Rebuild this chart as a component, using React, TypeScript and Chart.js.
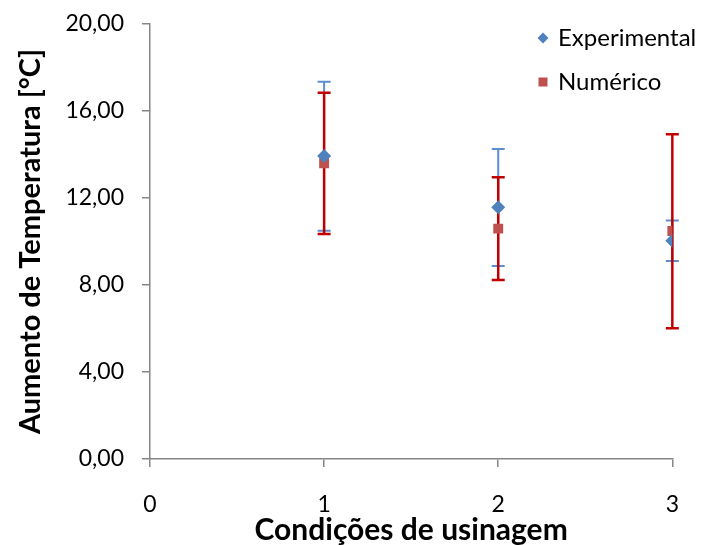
import React, { useEffect, useRef } from "react";
import { Chart, registerables } from "chart.js";

Chart.register(...registerables);

const conditions = [1, 2, 3];
const expValues = [13.93, 11.57, 10.04];
const expUpper = [17.35, 14.25, 10.97];
const expLower = [10.5, 8.87, 9.1];
const numValues = [13.6, 10.59, 10.48];
const numUpper = [16.84, 12.95, 14.93];
const numLower = [10.34, 8.23, 6.01];
const xTickValues = [0, 1, 2, 3];
const yTickStep = 4;

const seriesNames = ["Experimental", "Numérico"];
const xTitle = "Condições de usinagem";
const yTitle = "Aumento de Temperatura [°C]";

const FONT = "Lato, 'Open Sans', sans-serif";
const AXIS_COLOR = "#868686";
const BLUE = "#4F81BD";
const RED = "#C0504D";
const BLUE_BAR = "#5B8ED0";
const RED_BAR = "#C00000";

const errorBars = [
  { upper: expUpper, lower: expLower, color: BLUE_BAR, width: 2 },
  { upper: numUpper, lower: numLower, color: RED_BAR, width: 2.5 },
];

const errorBarPlugin = {
  id: "errorBarsCustom",
  beforeDatasetsDraw(chart: any) {
    const { ctx, scales } = chart;
    const xs = scales.x;
    const ys = scales.y;
    ctx.save();
    errorBars.forEach((eb) => {
      ctx.strokeStyle = eb.color;
      ctx.lineWidth = eb.width;
      conditions.forEach((c, i) => {
        const x = xs.getPixelForValue(c);
        const yu = ys.getPixelForValue(eb.upper[i]);
        const yl = ys.getPixelForValue(eb.lower[i]);
        ctx.beginPath();
        ctx.moveTo(x, yu);
        ctx.lineTo(x, yl);
        ctx.moveTo(x - 6.5, yu);
        ctx.lineTo(x + 6.5, yu);
        ctx.moveTo(x - 6.5, yl);
        ctx.lineTo(x + 6.5, yl);
        ctx.stroke();
      });
    });
    ctx.restore();
  },
};

const legendPlugin = {
  id: "legendCustom",
  afterDraw(chart: any) {
    const { ctx } = chart;
    ctx.save();
    ctx.font = `24px ${FONT}`;
    ctx.textBaseline = "middle";
    ctx.textAlign = "left";
    const lx = 543;
    const y1 = 38;
    const y2 = 82;
    ctx.fillStyle = BLUE;
    ctx.beginPath();
    ctx.moveTo(lx, y1 - 5.5);
    ctx.lineTo(lx + 5.5, y1);
    ctx.lineTo(lx, y1 + 5.5);
    ctx.lineTo(lx - 5.5, y1);
    ctx.closePath();
    ctx.fill();
    ctx.fillStyle = RED;
    ctx.fillRect(lx - 4.5, y2 - 4.5, 9, 9);
    ctx.fillStyle = "#000";
    ctx.fillText(seriesNames[0], 558, y1);
    ctx.fillText(seriesNames[1], 558, y2);
    ctx.restore();
  },
};

export default function App() {
  const ref = useRef<HTMLCanvasElement>(null);
  useEffect(() => {
    if (!ref.current) return;
    const chart = new Chart(ref.current, {
      type: "scatter",
      data: {
        datasets: [
          {
            label: seriesNames[0],
            data: conditions.map((c, i) => ({ x: c, y: expValues[i] })),
            pointStyle: "rectRot",
            pointRadius: 7,
            pointHoverRadius: 7,
            backgroundColor: BLUE,
            borderColor: BLUE,
            borderWidth: 0,
          },
          {
            label: seriesNames[1],
            data: conditions.map((c, i) => ({ x: c, y: numValues[i] })),
            pointStyle: "rect",
            pointRadius: 7,
            pointHoverRadius: 7,
            backgroundColor: RED,
            borderColor: RED,
            borderWidth: 0,
          },
        ],
      },
      options: {
        animation: false,
        responsive: true,
        maintainAspectRatio: false,
        layout: { padding: { top: 24, right: 29, left: 0, bottom: 0 } },
        plugins: { legend: { display: false }, tooltip: { enabled: false } },
        scales: {
          x: {
            type: "linear",
            min: 0,
            max: 3,
            afterFit(scale: any) {
              scale.height = 86;
            },
            afterBuildTicks(scale: any) {
              scale.ticks = xTickValues.map((v) => ({ value: v }));
            },
            ticks: {
              stepSize: 1,
              padding: 24,
              color: "#000",
              font: { family: FONT, size: 23 },
              callback: (v: any) => String(v),
            },
            grid: {
              display: true,
              drawOnChartArea: false,
              drawTicks: true,
              tickLength: 8,
              color: AXIS_COLOR,
              lineWidth: 1.5,
            },
            border: { color: AXIS_COLOR, width: 1.5 },
            title: {
              display: true,
              text: xTitle,
              color: "#000",
              font: { family: FONT, size: 30, weight: "bold" },
              padding: { top: 0, bottom: -3 },
            },
          },
          y: {
            min: 0,
            max: 20,
            afterFit(scale: any) {
              scale.width = 150;
              scale.paddingTop = 0;
              scale.paddingBottom = 0;
            },
            ticks: {
              stepSize: yTickStep,
              padding: 18,
              color: "#000",
              font: { family: FONT, size: 23 },
              callback: (v: any) => Number(v).toFixed(2).replace(".", ","),
            },
            grid: {
              display: true,
              drawOnChartArea: false,
              drawTicks: true,
              tickLength: 8,
              color: AXIS_COLOR,
              lineWidth: 1.5,
            },
            border: { color: AXIS_COLOR, width: 1.5 },
            title: {
              display: true,
              text: yTitle,
              color: "#000",
              font: { family: FONT, size: 29, weight: "bold" },
              padding: { top: 13, bottom: 0 },
            },
          },
        },
      },
      plugins: [errorBarPlugin, legendPlugin],
    });
    return () => chart.destroy();
  }, []);
  return (
    <div style={{ position: "absolute", left: 0, top: 0, width: 703, height: 545, background: "#fff" }}>
      <canvas ref={ref} />
    </div>
  );
}
